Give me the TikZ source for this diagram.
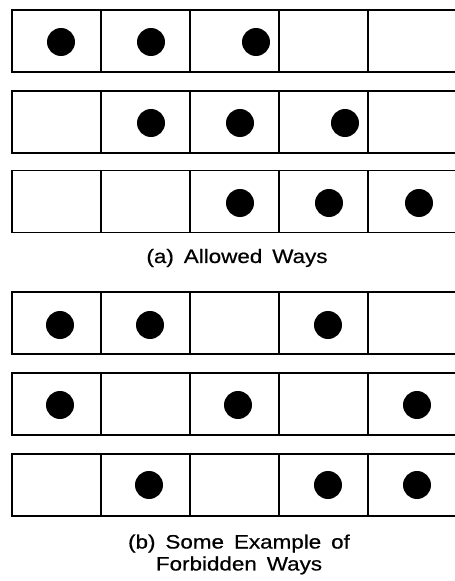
\documentclass[tikz,border=0pt]{standalone}
\usepackage{fontspec}
\setmainfont{Liberation Sans}[FakeStretch=1.16,WordSpace=1.6,FakeBold=0.6]
\usepackage{tikz}
\usetikzlibrary{positioning}

\begin{document}
\begin{tikzpicture}[
		cellbox/.style={draw=black, line width=1.1pt, minimum width=1.78cm,
			minimum height=1.24cm, outer sep=0pt, inner sep=0pt},
		ball/.style={circle, fill=black, minimum size=0.56cm, inner sep=0pt},
		caption/.style={font=\fontsize{11}{12.5}\selectfont, align=center}
	]
		\useasboundingbox (0,0) rectangle (9.1,11.62);
		% six rows of five cells
		\foreach \r/\y in {1/10.8, 2/9.18, 3/7.59, 4/5.16, 5/3.54, 6/1.92}
			\foreach \c/\x in {1/1.13, 2/2.91, 3/4.69, 4/6.47, 5/8.25}
				\node[cellbox] (c\r-\c) at (\x,\y) {};
		% (a) allowed
		\node[ball] (b1-1) at (1.22,10.78) {};
		\node[ball] (b1-2) at (3.02,10.78) {};
		\node[ball] (b1-3) at (5.12,10.78) {};
		\node[ball] (b2-1) at (3.02,9.16) {};
		\node[ball] (b2-2) at (4.80,9.16) {};
		\node[ball] (b2-3) at (6.90,9.16) {};
		\node[ball] (b3-1) at (4.80,7.56) {};
		\node[ball] (b3-2) at (6.58,7.56) {};
		\node[ball] (b3-3) at (8.38,7.56) {};
		\node[caption] (capa) at (4.74,6.46) {(a) Allowed Ways};
		% (b) forbidden
		\node[ball] (b4-1) at (1.20,5.12) {};
		\node[ball] (b4-2) at (3.00,5.12) {};
		\node[ball] (b4-3) at (6.56,5.12) {};
		\node[ball] (b5-1) at (1.20,3.52) {};
		\node[ball] (b5-2) at (4.76,3.52) {};
		\node[ball] (b5-3) at (8.34,3.52) {};
		\node[ball] (b6-1) at (2.98,1.92) {};
		\node[ball] (b6-2) at (6.56,1.92) {};
		\node[ball] (b6-3) at (8.34,1.92) {};
		\node[caption] (capb) at (4.78,0.53) {(b) Some Example of\\Forbidden Ways};
	\end{tikzpicture}
\end{document}
